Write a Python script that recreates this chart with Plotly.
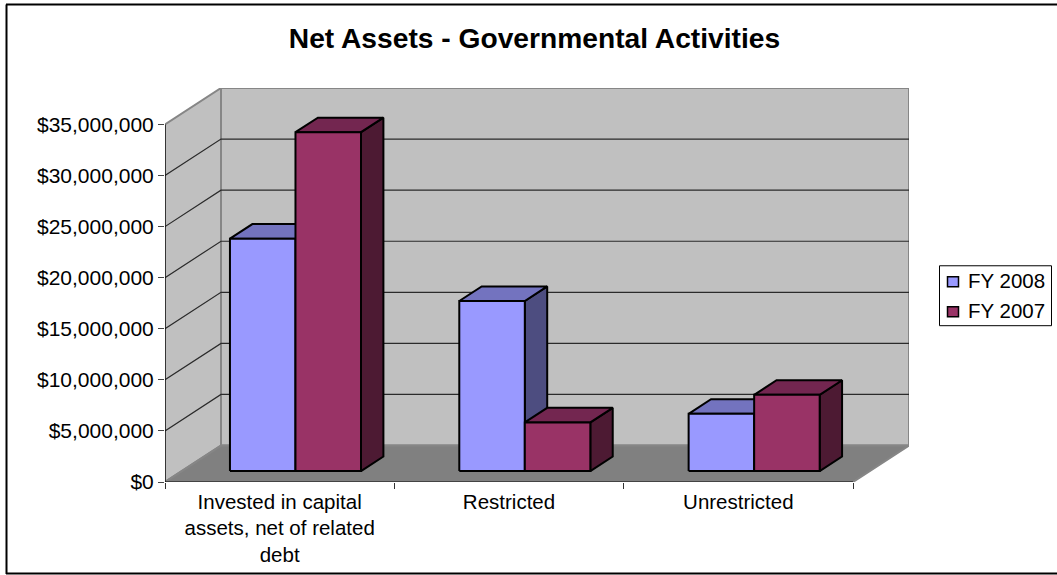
import plotly.graph_objects as go

# Chart content
TITLE = "Net Assets - Governmental Activities"
CATEGORIES = ["Invested in capital<br>assets, net of related<br>debt", "Restricted", "Unrestricted"]
SERIES_NAMES = ["FY 2008", "FY 2007"]
FY2008 = [22750000, 16650000, 5600000]
FY2007 = [33170000, 4760000, 7460000]
Y_TICKS = [0, 5000000, 10000000, 15000000, 20000000, 25000000, 30000000, 35000000]

# Canvas and plot box in pixels
WIDTH, HEIGHT = 1057, 575
LEFT, RIGHT, BOTTOM = 165, 909, 482
CAT_PX = 229.33          # width of one category on the front plane
UNIT_PX = 358 / 35e6     # pixels per dollar
DEPTH_X_PX, DEPTH_Y_PX = 56, 36.5  # oblique shift from front plane to back wall
TOP = BOTTOM - 358 - DEPTH_Y_PX

DX = DEPTH_X_PX / CAT_PX
DY = DEPTH_Y_PX / UNIT_PX
N = len(CATEGORIES)
YMAX = Y_TICKS[-1]

# Bar placement inside a category, as fractions of category width and of floor depth
BAR_START, BAR_W = 0.21, 0.2857
D_FRONT, D_BACK = 0.30, 0.70

FACE = {
    SERIES_NAMES[0]: dict(front="#9999FF", top="#7373BF", side="#4D4D80"),
    SERIES_NAMES[1]: dict(front="#993366", top="#732650", side="#4D1A33"),
}
WALL, FLOOR, EDGE, GRID = "#C0C0C0", "#808080", "#868686", "#2A2A2A"
FONT = "Liberation Sans, Arial, sans-serif"


def proj(x, value, depth):
    """Oblique projection of (category position, value, depth) onto the axes."""
    return x + depth * DX, value + depth * DY


def poly(points, fill=None, line="#000000", width=2):
    xs, ys = zip(*[proj(*p) for p in points])
    return go.Scatter(
        x=list(xs), y=list(ys), mode="lines",
        fill="toself" if fill else "none", fillcolor=fill,
        line=dict(color=line, width=width, simplify=False),
        hoverinfo="skip", showlegend=False, cliponaxis=False,
    )


def box_faces(x0, x1, value, colors):
    """Three visible faces of a bar whose height is the given value."""
    return [
        poly([(x1, 0, D_FRONT), (x1, 0, D_BACK), (x1, value, D_BACK), (x1, value, D_FRONT), (x1, 0, D_FRONT)], colors["side"]),
        poly([(x0, value, D_FRONT), (x0, value, D_BACK), (x1, value, D_BACK), (x1, value, D_FRONT), (x0, value, D_FRONT)], colors["top"]),
        poly([(x0, 0, D_FRONT), (x1, 0, D_FRONT), (x1, value, D_FRONT), (x0, value, D_FRONT), (x0, 0, D_FRONT)], colors["front"]),
    ]


fig = go.Figure()

# Walls and floor
fig.add_trace(poly([(0, 0, 0), (0, 0, 1), (0, YMAX, 1), (0, YMAX, 0), (0, 0, 0)], WALL, EDGE))
fig.add_trace(poly([(0, 0, 1), (N, 0, 1), (N, YMAX, 1), (0, YMAX, 1), (0, 0, 1)], WALL, EDGE))
fig.add_trace(poly([(0, 0, 0), (N, 0, 0), (N, 0, 1), (0, 0, 1), (0, 0, 0)], FLOOR, EDGE))

# Gridlines run along the left wall and across the back wall
for tick in Y_TICKS[1:-1]:
    fig.add_trace(poly([(0, tick, 0), (0, tick, 1), (N, tick, 1)], None, GRID, 1.2))

# Axis lines on the front plane
fig.add_trace(poly([(0, YMAX, 0), (0, 0, 0), (N, 0, 0)], None, "#000000", 1.2))

# Bars, blue before red in each category so that red overlaps the blue side face
for i in range(N):
    for k, (name, values) in enumerate(zip(SERIES_NAMES, [FY2008, FY2007])):
        x0 = i + BAR_START + k * BAR_W
        for face in box_faces(x0, x0 + BAR_W, values[i], FACE[name]):
            fig.add_trace(face)


def px_x(px):
    return (px - LEFT) / (RIGHT - LEFT)


def px_y(py):
    return (BOTTOM - py) / (BOTTOM - TOP)


def line_shape(x0, y0, x1, y1, color="#000000", width=2):
    return dict(type="line", xref="paper", yref="paper",
                x0=px_x(x0), y0=px_y(y0), x1=px_x(x1), y1=px_y(y1),
                line=dict(color=color, width=width))


# Chart frame (left, top, bottom)
shapes = [
    line_shape(6.5, 4, 6.5, 574),
    line_shape(6, 4, WIDTH, 4),
    line_shape(6, 573.5, WIDTH, 573.5),
]

# Legend box with swatches and labels
shapes.append(dict(type="rect", xref="paper", yref="paper",
                   x0=px_x(939.5), y0=px_y(265.5), x1=px_x(1051.5), y1=px_y(325.5),
                   fillcolor="#FFFFFF", line=dict(color="#000000", width=1)))
annotations = []
for name, cy in zip(SERIES_NAMES, [281.5, 311.5]):
    shapes.append(dict(type="rect", xref="paper", yref="paper",
                       x0=px_x(947.5), y0=px_y(cy - 5), x1=px_x(958.5), y1=px_y(cy + 5),
                       fillcolor=FACE[name]["front"], line=dict(color="#000000", width=1.5)))
    annotations.append(dict(xref="paper", yref="paper", x=px_x(965.5), y=px_y(cy - 1),
                            xanchor="left", yanchor="middle", showarrow=False, text=name,
                            font=dict(family=FONT, size=20.5, color="#000000")))

fig.update_layout(
    width=WIDTH, height=HEIGHT, autosize=False,
    margin=dict(l=LEFT, r=WIDTH - RIGHT, t=TOP, b=HEIGHT - BOTTOM, pad=0, autoexpand=False),
    paper_bgcolor="#FFFFFF", plot_bgcolor="#FFFFFF",
    showlegend=False, shapes=shapes, annotations=annotations,
    title=dict(text=f"<b>{TITLE}</b>", x=534.5 / WIDTH, xanchor="center",
               y=1 - 38 / HEIGHT, yanchor="middle",
               font=dict(family=FONT, size=28.2, color="#000000")),
    xaxis=dict(
        range=[0, N + DX], tickmode="array",
        tickvals=[i + 0.5 for i in range(N)], ticktext=CATEGORIES,
        ticks="", showgrid=False, zeroline=False, showline=False,
        ticklabelstandoff=5, automargin=False,
        tickfont=dict(family=FONT, size=20.5, color="#000000"),
        minor=dict(tickmode="array", tickvals=list(range(N + 1)), ticks="outside",
                   ticklen=6, tickwidth=1.2, tickcolor="#333333", showgrid=False),
        fixedrange=True,
    ),
    yaxis=dict(
        range=[0, YMAX + DY], tickmode="array", tickvals=Y_TICKS,
        tickformat="$,.0f", ticks="outside", ticklen=6, tickwidth=1.2, tickcolor="#444444",
        showgrid=False, zeroline=False, showline=False, automargin=False,
        tickfont=dict(family=FONT, size=21, color="#000000"),
        fixedrange=True,
    ),
)

fig.write_html("out.html", config=dict(displayModeBar=False))
